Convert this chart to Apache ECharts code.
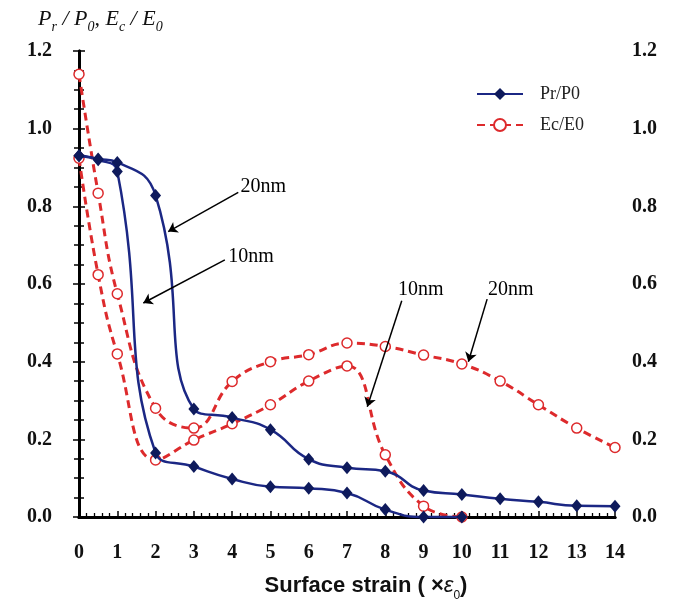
<!DOCTYPE html>
<html>
<head>
<meta charset="utf-8">
<script src="https://cdn.jsdelivr.net/npm/echarts@6/dist/echarts.min.js"></script>
<style>html,body{margin:0;padding:0;background:#fff;}#c{width:680px;height:606px;}</style>
</head>
<body>
<div id="c"></div>
<script>
// ---- data ----
const xPr10 = [0, 0.5, 1, 2, 3, 4, 5, 6, 7, 8, 9, 10];
const pr10  = [0.93, 0.92, 0.89, 0.165, 0.13, 0.098, 0.078, 0.074, 0.062, 0.019, 0, 0];
const xPr20 = [0, 0.5, 1, 2, 3, 4, 5, 6, 7, 8, 9, 10, 11, 12, 13, 14];
const pr20  = [0.93, 0.922, 0.913, 0.828, 0.278, 0.256, 0.225, 0.149, 0.127, 0.118, 0.068, 0.058, 0.047, 0.039, 0.029, 0.028];
const xEc10 = [0, 0.5, 1, 2, 3, 4, 5, 6, 7, 8, 9, 10];
const ec10  = [0.924, 0.624, 0.42, 0.147, 0.198, 0.24, 0.289, 0.35, 0.389, 0.16, 0.028, 0];
const xEc20 = [0, 0.5, 1, 2, 3, 4, 5, 6, 7, 8, 9, 10, 11, 12, 13, 14];
const ec20  = [1.14, 0.834, 0.575, 0.28, 0.229, 0.349, 0.40, 0.418, 0.448, 0.439, 0.417, 0.394, 0.35, 0.289, 0.229, 0.179];
const legendNames = ['Pr/P0', 'Ec/E0'];
const xTicks = [0, 14, 1];      // min, max, interval
const yTicks = [0, 1.2, 0.2];
// annotation arrows (data coords): [from, to]
const arrows = [
  [[4.16, 0.836], [2.33, 0.735]],
  [[3.81, 0.662], [1.68, 0.551]],
  [[8.43, 0.557], [7.53, 0.284]],
  [[10.66, 0.561], [10.17, 0.40]]
];
const annoLabels = [['20nm', 4.22, 0.851], ['10nm', 3.90, 0.670], ['10nm', 8.33, 0.585], ['20nm', 10.68, 0.585]];

const zip = (xs, ys) => xs.map((x, i) => [x, ys[i]]);

const BLUE = '#1b2784', BLUE_M = '#0e1a5c', RED = '#dd2a2c';
const serif = 'Liberation Serif';

const blueSeries = (data) => ({
  type: 'line', name: legendNames[0], data, smooth: 0.5, clip: false,
  symbol: 'diamond', symbolSize: [11, 13],
  lineStyle: { color: BLUE, width: 2.5 },
  itemStyle: { color: BLUE_M },
  z: 4
});
const redSeries = (data) => ({
  type: 'line', name: legendNames[1], data, smooth: 0.45, clip: false,
  symbol: 'circle', symbolSize: 10,
  lineStyle: { color: RED, width: 3, type: [8, 5] },
  itemStyle: { color: '#fff', borderColor: RED, borderWidth: 1.5 },
  z: 3
});

const tickLabel = { fontFamily: serif, fontWeight: 'bold', fontSize: 20, color: '#111' };

const chart = echarts.init(document.getElementById('c'), null, { renderer: 'canvas' });
chart.setOption({
  animation: false,
  backgroundColor: '#fff',
  title: {
    left: 38, top: 8, padding: 0,
    text: '{i|P}{s|r}{i| / P}{s|0}{i|, E}{s|c}{i| / E}{s|0}',
    textStyle: {
      fontWeight: 'normal',
      rich: {
        i: { fontFamily: serif, fontStyle: 'italic', fontWeight: 'normal', fontSize: 22, color: '#111', verticalAlign: 'top', lineHeight: 26 },
        s: { fontFamily: serif, fontStyle: 'italic', fontWeight: 'normal', fontSize: 14, color: '#111', verticalAlign: 'bottom', lineHeight: 26 }
      }
    }
  },
  legend: {
    data: legendNames, orient: 'vertical', left: 471, top: 80,
    itemWidth: 46, itemHeight: 15, itemGap: 13,
    textStyle: { fontFamily: serif, fontSize: 18, color: '#222', padding: [0, 0, 0, 12] }
  },
  grid: { left: 79, right: 65, top: 51, bottom: 89, outerBoundsMode: 'none', containLabel: false },
  xAxis: [{
    type: 'value', min: xTicks[0], max: xTicks[1], interval: xTicks[2], position: 'bottom',
    axisLine: { lineStyle: { color: '#000', width: 3 } },
    axisTick: { inside: true, length: 6, lineStyle: { color: '#000', width: 1.5 } },
    minorTick: { show: true, splitNumber: 5, length: 4, lineStyle: { color: '#000', width: 1.3 } },
    splitLine: { show: false },
    axisLabel: Object.assign({ margin: 26 }, tickLabel),
    name: '{a|Surface strain ( ×}{e|ε}{u|0}{a|)}', nameLocation: 'middle', nameGap: 58,
    nameTextStyle: {
      padding: [0, 0, 0, 38],
      rich: {
        a: { fontFamily: 'Liberation Sans', fontWeight: 'bold', fontSize: 22, color: '#111', verticalAlign: 'top', lineHeight: 27 },
        e: { fontFamily: 'Liberation Sans', fontStyle: 'italic', fontSize: 22, color: '#111', verticalAlign: 'top', lineHeight: 27 },
        u: { fontFamily: 'Liberation Sans', fontSize: 12, color: '#111', verticalAlign: 'bottom', lineHeight: 27 }
      }
    }
  }, {
    type: 'value', min: xTicks[0], max: xTicks[1], position: 'top',
    axisLine: { lineStyle: { color: '#000', width: 3 } },
    axisTick: { show: false }, axisLabel: { show: false }, splitLine: { show: false }
  }],
  yAxis: [{
    type: 'value', min: yTicks[0], max: yTicks[1], interval: yTicks[2], position: 'left',
    axisLine: { show: true, lineStyle: { color: '#000', width: 3 } },
    axisTick: { show: true, inside: true, length: 6, lineStyle: { color: '#000', width: 1.5 } },
    minorTick: { show: true, splitNumber: 4, length: 5, lineStyle: { color: '#000', width: 1.5 } },
    splitLine: { show: false },
    axisLabel: Object.assign({ margin: 27, formatter: v => v.toFixed(1) }, tickLabel)
  }, {
    type: 'value', min: yTicks[0], max: yTicks[1], interval: yTicks[2], position: 'right',
    axisLine: { show: true, lineStyle: { color: '#000', width: 3 } },
    axisTick: { show: true, inside: true, length: 6, lineStyle: { color: '#000', width: 1.5 } },
    minorTick: { show: true, splitNumber: 4, length: 5, lineStyle: { color: '#000', width: 1.5 } },
    splitLine: { show: false },
    axisLabel: Object.assign({ margin: 17, formatter: v => v.toFixed(1) }, tickLabel)
  }],
  series: [
    redSeries(zip(xEc10, ec10)),
    redSeries(zip(xEc20, ec20)),
    blueSeries(zip(xPr10, pr10)),
    blueSeries(zip(xPr20, pr20)),
    {
      type: 'line', name: 'annotations', data: [], silent: true, z: 6,
      markLine: {
        silent: true, animation: false,
        symbol: ['none', 'arrow'], symbolSize: 9,
        lineStyle: { color: '#000', width: 1.5, type: 'solid' },
        label: { show: false },
        emphasis: { disabled: true },
        data: arrows.map(a => [{ coord: a[0] }, { coord: a[1] }])
      },
      markPoint: {
        silent: true, animation: false,
        symbol: 'circle', symbolSize: 0,
        label: { show: true, position: 'right', distance: 0, formatter: '{b}', fontFamily: serif, fontSize: 20, color: '#000' },
        data: annoLabels.map(t => ({ name: t[0], coord: [t[1], t[2]] }))
      }
    }
  ]
});
</script>
</body>
</html>
